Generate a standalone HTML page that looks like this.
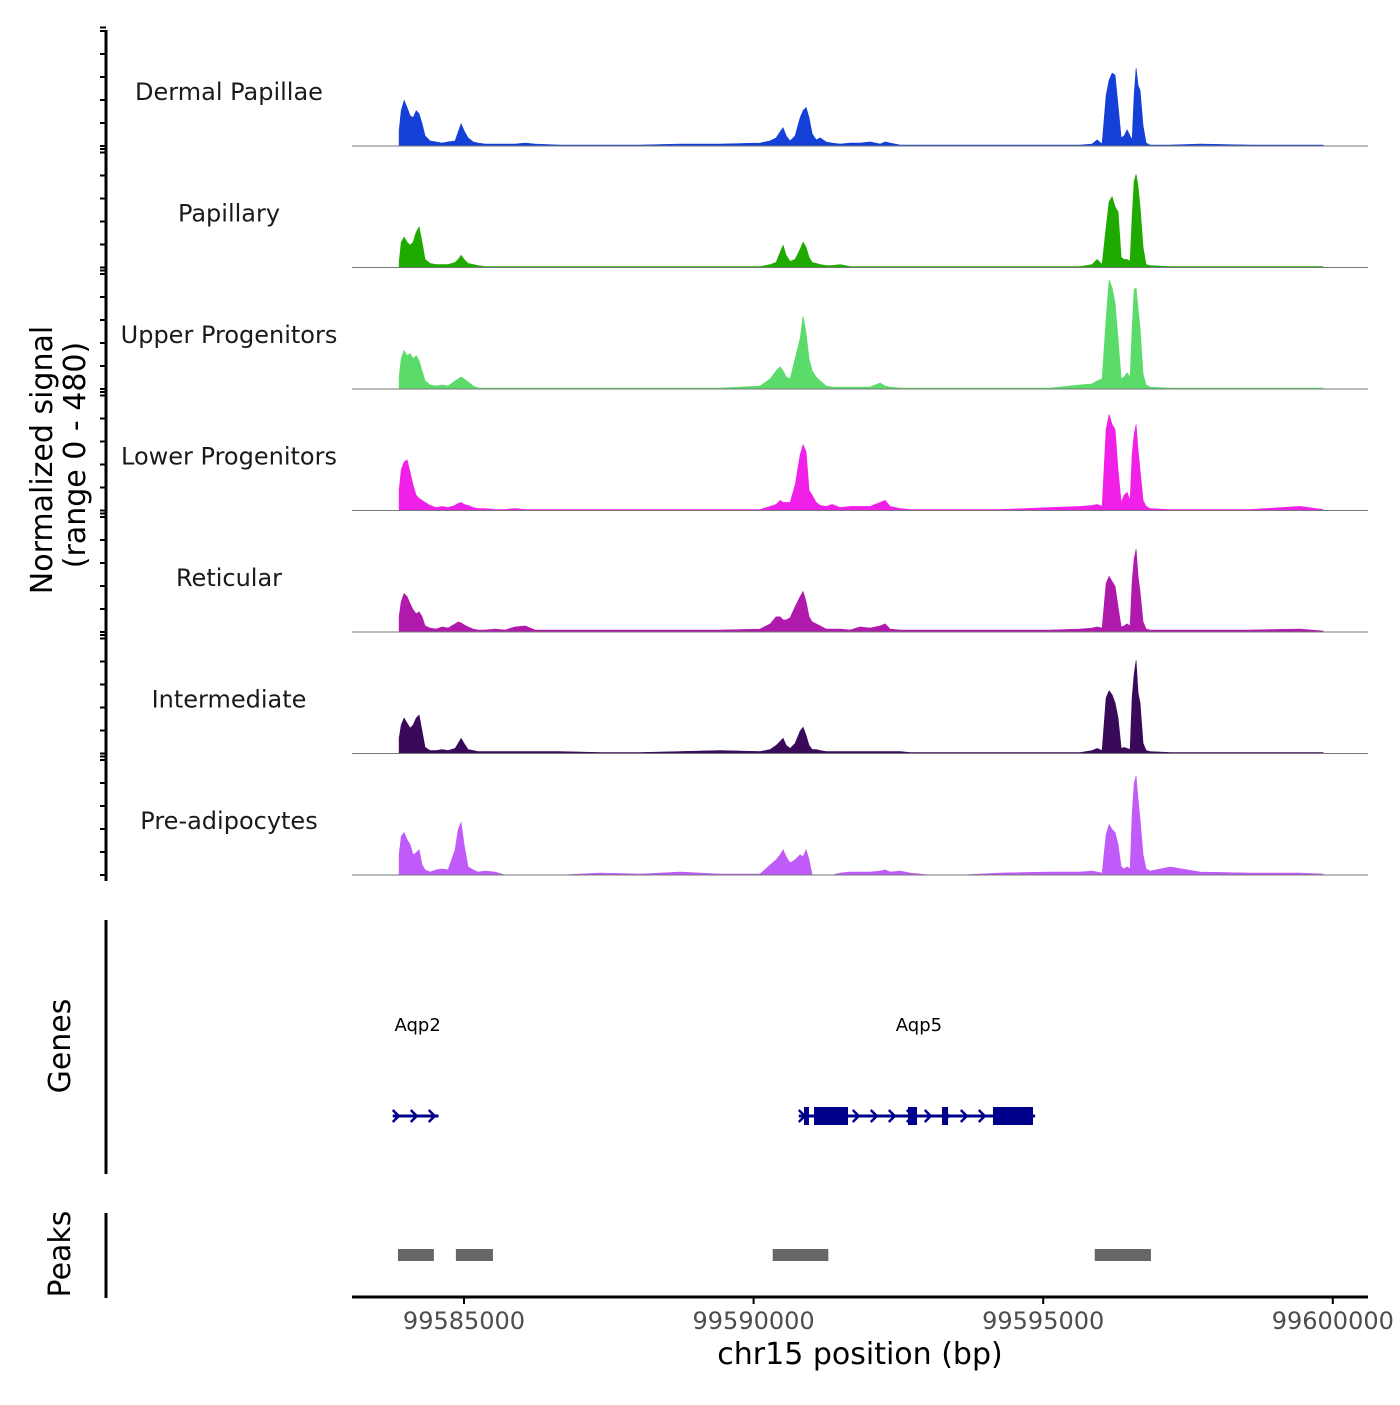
<!DOCTYPE html>
<html><head><meta charset="utf-8"><style>
body{margin:0;background:#fff;}
svg text{font-family:"DejaVu Sans","Liberation Sans",sans-serif;}
</style></head><body>
<svg id="chart" width="1400" height="1400" viewBox="0 0 1400 1400" xmlns="http://www.w3.org/2000/svg">
<g id="tracks"></g>
<g id="axes"></g>
<text transform="translate(52,460) rotate(-90)" text-anchor="middle" font-size="30" fill="#000">Normalized signal</text>
<text transform="translate(85,455) rotate(-90)" text-anchor="middle" font-size="30" fill="#000">(range 0 - 480)</text>
<text transform="translate(70,1046) rotate(-90)" text-anchor="middle" font-size="30" fill="#000">Genes</text>
<text transform="translate(70,1254) rotate(-90)" text-anchor="middle" font-size="30" fill="#000">Peaks</text>
<text x="860" y="1364" text-anchor="middle" font-size="30" fill="#000">chr15 position (bp)</text>
</svg>
<script>
const regionStart = 99583880;
const offsets = [0,35,86,138,190,242,294,345,397,449,535,639,742,846,967,1019,1070,1122,1191,1278,1364,1485,1657,1830,2003,2175,2348,2780,3470,4161,4852,5543,6233,6406,6509,6578,6630,6682,6751,6837,6923,6975,7027,7079,7131,7200,7269,7372,7476,7614,7787,7959,8132,8305,8391,8477,8650,8823,9168,9686,10376,11239,11757,11965,12051,12137,12206,12258,12310,12362,12414,12466,12517,12569,12621,12655,12690,12724,12759,12793,12845,12897,12966,13311,13829,14692,15555,15952];
const trackNames = ["Dermal Papillae","Papillary","Upper Progenitors","Lower Progenitors","Reticular","Intermediate","Pre-adipocytes"];
const trackColors = ["#1540d8","#1faa00","#5bdc6a","#f020e8","#b01aac","#3a0a5a","#c05af8"];
const dermalPapillae = [60,140,180,152,120,112,140,128,88,40,20,16,12,16,20,56,88,60,32,16,12,8,8,8,8,12,8,4,4,4,8,8,12,20,32,56,72,40,20,40,112,140,152,112,48,24,32,16,12,8,12,12,16,8,16,12,4,4,4,4,4,4,4,8,24,8,200,260,288,280,160,32,40,64,40,24,200,308,240,220,80,12,4,4,8,4,4,4];
const papillary = [20,100,120,100,88,100,140,160,100,32,16,12,12,12,20,32,48,32,16,12,8,4,4,4,4,4,4,4,4,4,4,4,4,12,20,60,88,48,24,32,72,100,80,40,20,16,12,8,8,12,4,4,4,4,4,4,4,4,4,4,4,4,4,12,32,12,160,260,280,240,220,40,32,32,24,200,340,368,320,240,80,12,8,4,4,4,4,4];
const upperProgenitors = [48,120,152,132,140,120,132,112,72,32,16,12,16,12,32,40,48,40,28,12,4,4,4,4,4,4,4,4,4,4,4,4,12,40,72,88,72,48,40,120,200,288,220,120,72,48,32,12,8,8,8,8,8,24,12,8,4,4,4,4,4,4,16,20,32,40,280,432,400,340,200,40,48,64,48,240,392,400,320,240,60,16,8,4,4,4,4,4];
const lowerProgenitors = [80,160,192,200,152,100,60,48,40,32,20,12,16,12,20,28,32,24,20,12,8,8,4,4,8,4,4,4,4,4,4,4,4,16,24,40,32,32,32,100,220,260,232,80,60,32,20,16,24,12,16,16,16,32,40,16,8,4,4,4,4,12,16,20,24,16,320,380,340,320,160,32,60,72,40,220,300,340,240,160,40,16,8,4,4,4,16,4];
const reticular = [60,120,152,140,112,88,72,80,60,24,16,12,20,16,32,40,36,28,20,12,8,8,12,8,20,24,8,8,8,8,8,8,12,32,60,60,48,48,56,100,140,160,120,60,40,32,24,12,12,12,8,20,16,24,32,12,8,8,8,8,8,8,12,16,20,16,192,220,200,180,100,20,24,32,24,200,288,328,220,160,40,12,8,8,8,8,12,4];
const intermediate = [60,112,140,120,100,112,140,152,88,24,12,12,16,12,20,40,60,40,16,12,8,8,8,8,8,8,8,8,4,4,8,12,8,16,32,48,60,32,20,40,88,104,72,32,16,16,12,8,8,8,8,8,8,8,8,8,8,4,4,4,4,4,4,12,20,12,220,248,232,200,140,20,24,20,16,220,312,368,240,200,40,12,8,4,4,4,4,4];
const preAdipocytes = [80,152,168,140,120,80,88,100,40,20,12,20,24,20,100,180,208,120,32,20,12,16,12,0,0,0,0,0,8,4,12,4,4,40,60,80,100,72,48,60,80,72,100,60,0,0,0,0,0,8,12,12,12,16,20,12,16,8,0,0,8,12,12,16,12,8,160,200,180,168,120,32,24,32,24,240,360,392,300,220,80,24,16,32,12,8,8,4];
const trackValues = [dermalPapillae,papillary,upperProgenitors,lowerProgenitors,reticular,intermediate,preAdipocytes];
const xTicks = [99585000,99590000,99595000,99600000];
const xTickLabels = ["99585000","99590000","99595000","99600000"];
const peakStarts = [99583860,99584860,99590330,99595890];
const peakEnds = [99584480,99585500,99591290,99596860];
const geneNames = ["Aqp2","Aqp5"];
const geneStarts = [99583770,99590780];
const geneEnds = [99584560,99594860];
const exonStarts = [99590870,99591043,99592666,99593253,99594133];
const exonEnds = [99590956,99591630,99592821,99593357,99594824];

const NS="http://www.w3.org/2000/svg";
const yMax = 480, trackH = 121.5, firstBase = 146;
function xScale(bp){ return 464 + (bp-99585000)*0.05792; }
function yScale(v, base){ return base - v/yMax*trackH; }
function mk(tag, attrs, parent){ const e=document.createElementNS(NS,tag); for(const k in attrs) e.setAttribute(k,attrs[k]); parent.appendChild(e); return e; }
const tracks=document.getElementById('tracks'), axes=document.getElementById('axes'), svg=document.getElementById('chart');

trackValues.forEach((vals,t)=>{
  const base = firstBase + t*trackH;
  const g=mk('g',{},tracks);
  
  
  let d='M'+xScale(regionStart+offsets[0]).toFixed(1)+','+base;
  vals.forEach((v,i)=>{ d+=' L'+xScale(regionStart+offsets[i]).toFixed(1)+','+yScale(v,base).toFixed(1); });
  d+=' L'+xScale(regionStart+offsets[offsets.length-1]).toFixed(1)+','+base+' Z';
  const p=mk('path',{d:d,fill:trackColors[t],stroke:trackColors[t],'stroke-width':0.6},g);
  
  
  const bl=mk('line',{x1:352,x2:1368,y1:base,y2:base,stroke:'#777','stroke-width':1},g);
  
  
  const lab=mk('text',{x:229,y:base-46,'text-anchor':'middle','font-size':24,fill:'#1a1a1a'},g);
  lab.textContent=trackNames[t];
  
  
  for(let k=0;k<=5;k++){
    const tk=mk('line',{x1:100,x2:106,y1:base-k*23,y2:base-k*23,stroke:'#000','stroke-width':2},axes);
    
    
  }
  const tt=mk('line',{x1:100,x2:106,y1:base-trackH+3,y2:base-trackH+3,stroke:'#000','stroke-width':2},axes);
  
  
});
const ya=mk('line',{x1:106,x2:106,y1:30,y2:881,stroke:'#000','stroke-width':3},axes);


const ga=mk('line',{x1:106,x2:106,y1:920,y2:1174,stroke:'#000','stroke-width':3},axes);


const pa=mk('line',{x1:106,x2:106,y1:1213,y2:1298,stroke:'#000','stroke-width':3},axes);


const xa=mk('line',{x1:352,x2:1368,y1:1297,y2:1297,stroke:'#000','stroke-width':3},axes);


xTicks.forEach((b,i)=>{
  const x=xScale(b);
  const tk=mk('line',{x1:x,x2:x,y1:1297,y2:1304,stroke:'#000','stroke-width':2},axes);
  
  
  const tl=mk('text',{x:x,y:1329,'text-anchor':'middle','font-size':24,fill:'#4d4d4d'},axes);
  tl.textContent=xTickLabels[i];
  
  
});
peakStarts.forEach((s,i)=>{
  const r=mk('rect',{x:xScale(s),y:1249,width:xScale(peakEnds[i])-xScale(s),height:12,fill:'#666'},svg);
  
  
});
const gy=1116, navy='#00008b';
geneNames.forEach((n,i)=>{
  const x1=xScale(geneStarts[i]), x2=xScale(geneEnds[i]);
  const g=mk('g',{},svg);
  
  
  mk('line',{x1:x1,x2:x2,y1:gy,y2:gy,stroke:navy,'stroke-width':3},g);
  for(let x=x1+3;x<x2;x+=18){ mk('path',{d:`M${x-3},${gy-6} L${x+3},${gy} L${x-3},${gy+6}`,fill:'none',stroke:navy,'stroke-width':2.5},g); }
  const lab=mk('text',{x:(x1+x2)/2+2,y:1031,'text-anchor':'middle','font-size':18,fill:'#000'},g);
  lab.textContent=n;
  
  
});
exonStarts.forEach((s,i)=>{
  const r=mk('rect',{x:xScale(s),y:gy-9,width:xScale(exonEnds[i])-xScale(s),height:18,fill:navy},svg);
  
  
});
</script>
</body></html>
